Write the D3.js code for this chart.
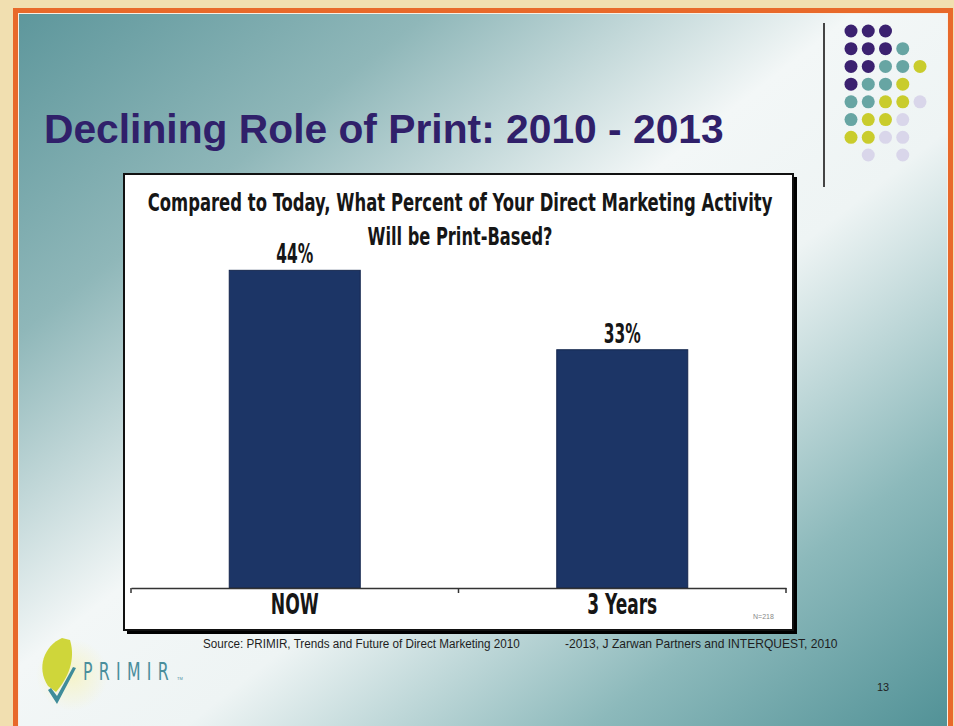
<!DOCTYPE html>
<html>
<head>
<meta charset="utf-8">
<script src="https://cdn.jsdelivr.net/npm/d3@7"></script>
<style>
  html, body { margin: 0; padding: 0; background: #f1dfb0; }
  svg { display: block; }
</style>
</head>
<body>
<div id="chart"></div>
<script>
// ---- data ----
const categories = ["NOW", "3 Years"];
const values = [44, 33];
const pageTitle = "Declining Role of Print: 2010 - 2013";
const questionLines = [
  "Compared to Today, What Percent of Your Direct Marketing Activity",
  "Will be Print-Based?"
];
const sourceParts = [
  "Source: PRIMIR, Trends and Future of Direct Marketing 2010",
  "-2013, J Zarwan Partners and INTERQUEST, 2010"
];
const sampleNote = "N=218";
const pageNumber = "13";

// decorative dot grid, P purple / T teal / Y yellow / L lavender
const dotRows = ["PPP", "PPPT", "PPTTY", "PTTY", "TTYYL", "TYYL", "YYLL", " L L"];
const dotColors = { P: "#3b2170", T: "#67a5a3", Y: "#c9cc2c", L: "#d9d6ea" };

const W = 954, H = 726;
const narrow = "'Liberation Sans Narrow', 'DejaVu Sans Condensed', 'Arial Narrow', sans-serif";

// squeeze a text horizontally to a target width (condensed look)
function fitWidth(sel, w) {
  sel.each(function (d, i) {
    const target = typeof w === "function" ? w(d, i) : w;
    const n = this.getComputedTextLength();
    if (!n) return;
    const s = target / n;
    const x = +this.getAttribute("x") || 0;
    d3.select(this).attr("transform", `translate(${x * (1 - s)},0) scale(${s},1)`);
  });
}

const svg = d3.select("#chart").append("svg")
  .attr("width", W).attr("height", H);

const defs = svg.append("defs");
const grad = defs.append("linearGradient")
  .attr("id", "slideBg")
  .attr("x1", 0).attr("y1", 0).attr("x2", 1).attr("y2", 1);
grad.append("stop").attr("offset", "0").attr("stop-color", "#5e979c");
grad.append("stop").attr("offset", "0.22").attr("stop-color", "#8fb7b9");
grad.append("stop").attr("offset", "0.45").attr("stop-color", "#f3f7f7");
grad.append("stop").attr("offset", "0.58").attr("stop-color", "#eef4f4");
grad.append("stop").attr("offset", "0.8").attr("stop-color", "#8cb9bb");
grad.append("stop").attr("offset", "1").attr("stop-color", "#4f9095");

const halo = defs.append("radialGradient").attr("id", "halo");
halo.append("stop").attr("offset", "0").attr("stop-color", "#f6f3c4").attr("stop-opacity", 0.9);
halo.append("stop").attr("offset", "1").attr("stop-color", "#f6f3c4").attr("stop-opacity", 0);

// outer frame
svg.append("rect").attr("width", W).attr("height", H).attr("fill", "#f1dfb0");
svg.append("rect")
  .attr("x", 13).attr("y", 8).attr("width", 940).attr("height", H)
  .attr("fill", "#e8692a");
svg.append("rect")
  .attr("x", 18).attr("y", 13).attr("width", 930).attr("height", H)
  .attr("fill", "#f6f0e6");
svg.append("rect")
  .attr("x", 19).attr("y", 14).attr("width", 928).attr("height", H)
  .attr("fill", "url(#slideBg)");

// page title
svg.append("text")
  .attr("x", 44).attr("y", 143)
  .attr("font-family", "'Liberation Sans', Arial, sans-serif")
  .attr("font-weight", "bold")
  .attr("font-size", 41)
  .attr("fill", "#30206a")
  .text(pageTitle)
  .call(fitWidth, 680);

// divider + dots
svg.append("line")
  .attr("x1", 824).attr("x2", 824).attr("y1", 23).attr("y2", 187)
  .attr("stroke", "#444").attr("stroke-width", 2);

const dotX = d3.scaleLinear().domain([0, 4]).range([851, 920]);
const dotY = d3.scaleLinear().domain([0, 7]).range([31, 155]);
const dots = [];
dotRows.forEach((row, j) => {
  row.split("").forEach((c, i) => {
    if (dotColors[c]) dots.push({ i, j, c });
  });
});
svg.append("g").selectAll("circle")
  .data(dots).enter().append("circle")
  .attr("cx", d => dotX(d.i))
  .attr("cy", d => dotY(d.j))
  .attr("r", 6.5)
  .attr("fill", d => dotColors[d.c]);

// chart box with shadow
svg.append("rect")
  .attr("x", 127).attr("y", 177).attr("width", 670).attr("height", 457)
  .attr("fill", "#000");
svg.append("rect")
  .attr("x", 124).attr("y", 174).attr("width", 669).attr("height", 456)
  .attr("fill", "#fff").attr("stroke", "#111").attr("stroke-width", 2);

// question
svg.append("g").selectAll("text")
  .data(questionLines).enter().append("text")
  .attr("x", 460)
  .attr("y", (d, i) => 211 + i * 34)
  .attr("text-anchor", "middle")
  .attr("font-family", narrow)
  .attr("font-weight", "bold")
  .attr("font-size", 24.5)
  .attr("fill", "#161616")
  .text(d => d)
  .call(fitWidth, (d, i) => i === 0 ? 625 : 185);

// scales
const x = d3.scaleBand()
  .domain(categories)
  .range([131, 786])
  .paddingInner(0.6)
  .paddingOuter(0.3);

const y = d3.scaleLinear()
  .domain([0, 50])
  .range([588, 227]);

// bars
svg.append("g").selectAll("rect")
  .data(values).enter().append("rect")
  .attr("x", (d, i) => x(categories[i]))
  .attr("y", d => y(d))
  .attr("width", x.bandwidth())
  .attr("height", d => y(0) - y(d))
  .attr("fill", "#1c3566")
  .attr("stroke", "#14264d")
  .attr("stroke-width", 1);

// value labels
svg.append("g").selectAll("text")
  .data(values).enter().append("text")
  .attr("x", (d, i) => x(categories[i]) + x.bandwidth() / 2)
  .attr("y", d => y(d) - 7)
  .attr("text-anchor", "middle")
  .attr("font-family", narrow)
  .attr("font-weight", "bold")
  .attr("font-size", 26)
  .attr("fill", "#161616")
  .text(d => d + "%")
  .call(fitWidth, 37);

// x axis
const xAxis = svg.append("g")
  .attr("transform", `translate(0,${y(0)})`)
  .call(d3.axisBottom(x).tickSize(0).tickSizeOuter(0).tickPadding(6));
xAxis.select(".domain").attr("stroke", "#333").attr("stroke-width", 1.5);
xAxis.selectAll(".tick text")
  .attr("font-family", narrow)
  .attr("font-weight", "bold")
  .attr("font-size", 28)
  .attr("fill", "#161616")
  .attr("dy", "0.71em")
  .call(fitWidth, d => d === "NOW" ? 48 : 70);

// boundary ticks between categories
const bounds = [x.range()[0]].concat(categories.map(c => x(c) - x.step() * x.paddingInner() / 2 + x.step()));
xAxis.selectAll(".bound")
  .data(bounds).enter().append("line")
  .attr("class", "bound")
  .attr("x1", d => d).attr("x2", d => d)
  .attr("y1", 0).attr("y2", 5)
  .attr("stroke", "#333").attr("stroke-width", 1.5);

// sample note
svg.append("text")
  .attr("x", 753).attr("y", 619)
  .attr("font-family", "'Liberation Sans', Arial, sans-serif")
  .attr("font-size", 7)
  .attr("fill", "#888")
  .text(sampleNote);

// source line
svg.append("g").selectAll("text")
  .data(sourceParts).enter().append("text")
  .attr("x", (d, i) => i === 0 ? 203 : 565)
  .attr("y", 648)
  .attr("font-family", "'Liberation Sans', Arial, sans-serif")
  .attr("font-size", 12.5)
  .attr("fill", "#1e1e1e")
  .text(d => d)
  .call(fitWidth, (d, i) => i === 0 ? 317 : 273);

// page number
svg.append("text")
  .attr("x", 883).attr("y", 691)
  .attr("text-anchor", "middle")
  .attr("font-family", "'Liberation Sans', Arial, sans-serif")
  .attr("font-size", 11)
  .attr("fill", "#222")
  .text(pageNumber);

// PRIMIR logo
const logo = svg.append("g");
logo.append("circle").attr("cx", 72).attr("cy", 675).attr("r", 36).attr("fill", "url(#halo)");
logo.append("path")
  .attr("d", "M62,638 C44,646 36,668 48,686 L56,692 C68,678 76,660 70,640 Z")
  .attr("fill", "#cfd63a");
logo.append("path")
  .attr("d", "M48,690 L57,704 L76,668 L73,667 L57,696 L51,688 Z")
  .attr("fill", "#3f8c9a");
logo.append("text")
  .attr("x", 83).attr("y", 680)
  .attr("font-family", narrow)
  .attr("font-size", 25)
  .attr("letter-spacing", 9)
  .attr("fill", "#4a8e9c")
  .text("PRIMIR")
  .call(fitWidth, 92);
logo.append("text")
  .attr("x", 177).attr("y", 680)
  .attr("font-family", "'Liberation Sans', Arial, sans-serif")
  .attr("font-size", 4)
  .attr("fill", "#4a8e9c")
  .text("TM");
</script>
</body>
</html>
